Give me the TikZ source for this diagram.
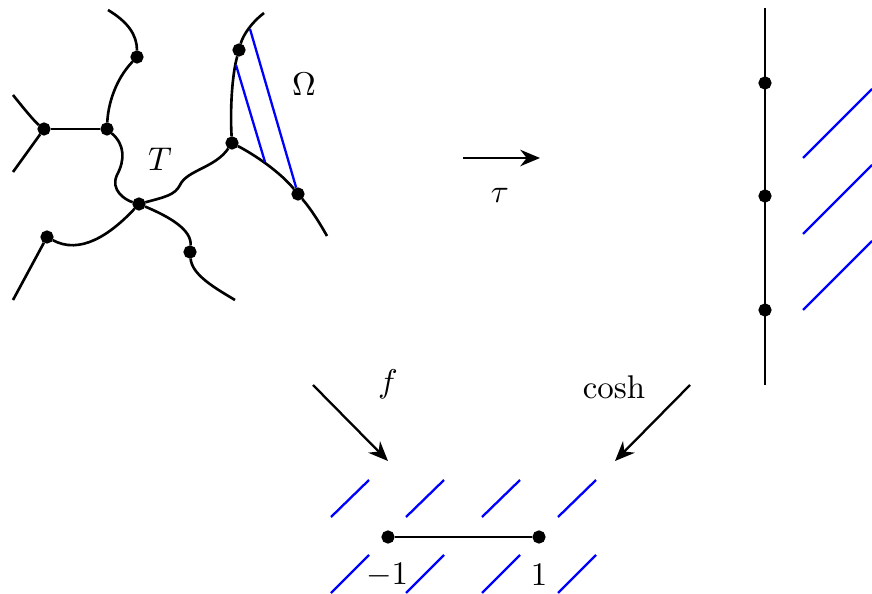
\documentclass[tikz,border=0pt]{standalone}
\usetikzlibrary{arrows.meta}

\newcommand*{\lineX}{765}
\newcommand*{\stripR}{872}

\begin{document}
\begin{tikzpicture}
[
	closedpt/.style={circle,draw,fill,inner sep=0pt,minimum size=3.2pt},
	cut/.style={blue,line width=0.7pt},
	map/.style={-{Stealth[length=6pt,width=5pt]},line width=0.7pt},
	x=0.0107cm,
	y=-0.0107cm,
	thick
]

	\useasboundingbox (0,0) rectangle (872,594);

	% vertices of the tree
	\node[closedpt] (a) at (137,57) {};
	\node[closedpt] (b) at (107,129) {};
	\node[closedpt] (c) at (44,129) {};
	\node[closedpt] (d) at (139,204) {};
	\node[closedpt] (e) at (47,237) {};
	\node[closedpt] (f) at (190,252) {};
	\node[closedpt] (g) at (232,143) {};
	\node[closedpt] (h) at (239,50) {};
	\node[closedpt] (i) at (298,194) {};

	% free ends
	\coordinate (atop) at (108,10);
	\coordinate (cup) at (13,95);
	\coordinate (clow) at (13,172);
	\coordinate (elow) at (13,300);
	\coordinate (flow) at (235,300);
	\coordinate (htop) at (264,13);
	\coordinate (ilow) at (327,236);

	% edges
	\draw (atop) .. controls (128,22) and (137,35) .. (a);
	\draw (a) .. controls (115,80) and (108,105) .. (b);
	\draw (c) -- (b);
	\draw (cup) .. controls (25,110) and (35,122) .. (c);
	\draw (c) -- (clow);
	\draw (b) .. controls (125,145) and (125,160) .. (117,175)
	  .. controls (110,190) and (125,200) .. (d);
	\draw (e) .. controls (80,255) and (110,235) .. (d);
	\draw (e) -- (elow);
	\draw (d) .. controls (170,217) and (192,230) .. (f);
	\draw (f) .. controls (192,275) and (215,288) .. (flow);
	\draw (d) .. controls (165,197) and (175,195) .. (180,185)
	  .. controls (187,170) and (215,168) .. (g);
	\draw (g) .. controls (230,110) and (232,75) .. (h);
	\draw (h) .. controls (243,35) and (252,22) .. (htop);
	\draw (g) .. controls (255,155) and (280,172) .. (i);
	\draw (i) .. controls (310,208) and (318,220) .. (ilow);

	% cuts in Omega
	\coordinate (o1) at (250,29);
	\coordinate (o2) at (236,65);
	\coordinate (o3) at (265,162);
	\draw[cut] (o1) -- (i);
	\draw[cut] (o2) -- (o3);

	\node (T) at (160,159) {$T$};
	\node (Om) at (304,84) {$\Omega$};

	% tau
	\coordinate (ts) at (463,158);
	\coordinate (te) at (540,158);
	\draw[map] (ts) -- (te);
	\node (tau) at (500,195) {$\tau$};

	% vertical line
	\coordinate (vtop) at (\lineX,8);
	\coordinate (vbot) at (\lineX,385);
	\draw (vtop) -- (vbot);
	\foreach \y in {83,196,310} {
		\node[closedpt] at (\lineX,\y) {};
	}
	\foreach \y in {158,234,310} {
		\draw[cut] (803,\y) -- (\stripR,\y-69);
	}

	% f and cosh
	\coordinate (fs) at (313,385);
	\coordinate (fe) at (388,461);
	\coordinate (cs) at (690,385);
	\coordinate (ce) at (615,461);
	\draw[map] (fs) -- (fe);
	\draw[map] (cs) -- (ce);
	\node (flab) at (388,384) {$f$};
	\node (clab) at (614,387) {$\cosh$};

	% segment
	\node[closedpt] (m) at (388,537) {};
	\node[closedpt] (p) at (539,537) {};
	\draw (m) -- (p);
	\node (mlab) at (387,575) {$-1$};
	\node (plab) at (539,575) {$1$};
	\foreach \x in {331,406,482,558} {
		\draw[cut] (\x,517) -- (\x+38,480);
		\draw[cut] (\x,593) -- (\x+38,555);
	}

\end{tikzpicture}
\end{document}
